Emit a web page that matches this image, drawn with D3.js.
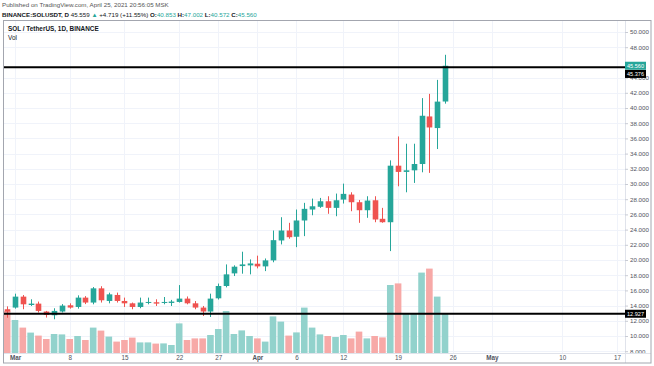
<!DOCTYPE html>
<html>
<head>
<meta charset="utf-8">
<script src="https://cdn.jsdelivr.net/npm/d3@7"></script>
<style>
  body { margin: 0; background: #fff; }
  svg { display: block; font-family: "Liberation Sans", Arial, sans-serif; }
</style>
</head>
<body>
<svg width="654" height="366"></svg>
<script>
// daily candles, SOL/USDT
const dates = ['2021-02-28','2021-03-01','2021-03-02','2021-03-03','2021-03-04','2021-03-05','2021-03-06','2021-03-07',
  '2021-03-08','2021-03-09','2021-03-10','2021-03-11','2021-03-12','2021-03-13','2021-03-14','2021-03-15','2021-03-16',
  '2021-03-17','2021-03-18','2021-03-19','2021-03-20','2021-03-21','2021-03-22','2021-03-23','2021-03-24','2021-03-25',
  '2021-03-26','2021-03-27','2021-03-28','2021-03-29','2021-03-30','2021-03-31','2021-04-01','2021-04-02','2021-04-03',
  '2021-04-04','2021-04-05','2021-04-06','2021-04-07','2021-04-08','2021-04-09','2021-04-10','2021-04-11','2021-04-12',
  '2021-04-13','2021-04-14','2021-04-15','2021-04-16','2021-04-17','2021-04-18','2021-04-19','2021-04-20','2021-04-21',
  '2021-04-22','2021-04-23','2021-04-24','2021-04-25'];
const open = [13.52,13.74,15.18,14.08,14.26,13.22,12.73,13.22,14.04,13.82,15.05,14.40,16.27,14.61,15.40,14.61,14.30,
  13.82,14.35,14.44,14.35,14.35,14.48,14.92,14.30,13.74,13.22,14.96,16.58,18.24,19.20,19.29,19.51,19.16,19.95,
  22.57,23.88,23.06,25.20,26.64,27.00,27.73,26.86,27.95,28.61,27.60,26.55,27.86,25.42,24.97,32.41,31.59,31.80,
  32.63,38.89,37.36,40.853];
const high = [13.90,15.57,15.39,14.83,14.53,13.30,13.65,14.20,14.30,15.35,15.25,16.44,16.55,15.70,15.71,15.05,14.40,
  15.05,15.05,14.83,15.13,14.75,16.70,15.20,14.60,13.95,15.57,16.90,19.42,19.30,21.09,20.08,20.57,20.20,23.88,
  25.63,24.89,26.64,27.52,28.08,28.17,28.39,28.74,30.05,28.91,27.90,28.39,28.39,26.86,33.11,36.26,35.30,35.30,
  41.30,41.86,43.70,47.002];
const low = [12.40,13.60,13.52,13.95,13.09,12.43,12.20,13.10,13.60,13.60,14.20,14.17,14.40,14.30,14.40,13.82,13.52,
  13.65,14.17,13.95,14.17,13.95,14.40,14.17,13.52,12.63,12.50,14.80,16.40,17.89,18.20,18.11,18.90,18.54,19.70,
  22.05,22.80,21.69,23.14,25.89,26.86,26.08,25.76,27.43,26.42,24.89,25.55,24.97,24.90,21.17,29.70,28.91,30.14,
  31.54,31.46,34.60,40.572];
const close = [13.22,15.18,14.17,14.26,13.30,12.77,13.30,14.00,13.74,15.05,14.40,16.27,14.70,15.48,14.61,14.30,13.82,
  14.40,14.48,14.26,14.48,14.53,14.92,14.30,13.74,13.22,14.92,16.58,18.11,19.12,19.42,19.55,19.16,19.95,22.61,
  23.88,23.00,25.20,26.73,27.07,27.73,26.86,27.86,28.70,27.60,26.55,27.82,25.33,24.97,32.41,31.59,31.80,32.63,
  38.98,37.44,40.841,45.560];
// volume, millions USDT
const volume = [21.0,16.5,12.7,10.2,8.7,7.0,9.5,9.3,7.0,8.5,6.5,12.7,11.2,8.2,5.7,6.5,7.7,
  5.3,5.3,4.7,4.8,4.0,14.8,6.5,7.3,7.3,9.0,12.0,21.0,9.5,11.3,8.5,7.3,5.7,18.3,
  15.7,8.7,10.3,22.7,12.7,9.3,8.5,8.0,9.0,7.3,10.7,7.3,8.5,7.8,34.0,34.8,19.8,19.8,
  40.2,42.2,28.2,19.8];

const priceTicks = [8,10,12,14,16,18,20,22,24,26,28,30,32,34,36,38,40,42,44,48,50];
const dateTicks = ['2021-03-01','2021-03-08','2021-03-15','2021-03-22','2021-03-27','2021-04-01','2021-04-06',
  '2021-04-12','2021-04-19','2021-04-26','2021-05-01','2021-05-10','2021-05-17'];
const hLines = [45.376, 12.927];   // drawn horizontal lines
const lastPrice = 45.560;

const up = '#26a69a', down = '#ef5350';
const upVol = '#92d2cc', downVol = '#f7a9a7';

const parse = d3.utcParse('%Y-%m-%d');
const candles = dates.map((d, i) => ({
  date: parse(d), o: open[i], h: high[i], l: low[i], c: close[i], v: volume[i]
}));

const pLeft = 4, pRight = 625, pTop = 21, pBottom = 353;

const x = d3.scaleUtc().domain([parse('2021-03-01'), parse('2021-05-17')]).range([15, 617]);
const y = d3.scaleLinear().domain([8, 50]).range([351.2, 32]);
const yVol = d3.scaleLinear().domain([0, 40]).range([pBottom, pBottom - 80]);

const svg = d3.select('svg');

const defs = svg.append('defs');
defs.append('clipPath').attr('id', 'plot')
  .append('rect').attr('x', pLeft).attr('y', pTop).attr('width', pRight - pLeft).attr('height', pBottom - pTop);
defs.append('clipPath').attr('id', 'paxis')
  .append('rect').attr('x', pRight).attr('y', pTop).attr('width', 30).attr('height', pBottom - pTop);

// grid
const grid = svg.append('g').attr('clip-path', 'url(#plot)');
grid.selectAll('.hg').data(priceTicks).enter().append('line')
  .attr('x1', pLeft).attr('x2', pRight)
  .attr('y1', d => Math.round(y(d)) + 0.5).attr('y2', d => Math.round(y(d)) + 0.5)
  .attr('stroke', '#f0f3fa');
grid.selectAll('.vg').data(dateTicks).enter().append('line')
  .attr('x1', d => Math.round(x(parse(d))) + 0.5).attr('x2', d => Math.round(x(parse(d))) + 0.5)
  .attr('y1', pTop).attr('y2', pBottom)
  .attr('stroke', '#f0f3fa');

const plot = svg.append('g').attr('clip-path', 'url(#plot)');

// volume
plot.selectAll('.vol').data(candles).enter().append('rect')
  .attr('x', d => x(d.date) - 3.3)
  .attr('width', 6.6)
  .attr('y', d => yVol(d.v))
  .attr('height', d => pBottom - yVol(d.v))
  .attr('fill', d => d.c >= d.o ? upVol : downVol);

// wicks + bodies
plot.selectAll('.wick').data(candles).enter().append('line')
  .attr('x1', d => Math.round(x(d.date)) + 0.5).attr('x2', d => Math.round(x(d.date)) + 0.5)
  .attr('y1', d => y(d.h)).attr('y2', d => y(d.l))
  .attr('stroke', d => d.c >= d.o ? up : down);
plot.selectAll('.body').data(candles).enter().append('rect')
  .attr('x', d => Math.round(x(d.date)) + 0.5 - 2.8)
  .attr('width', 5.6)
  .attr('y', d => y(Math.max(d.o, d.c)))
  .attr('height', d => Math.max(1, Math.abs(y(d.o) - y(d.c))))
  .attr('fill', d => d.c >= d.o ? up : down);

// horizontal drawings
plot.selectAll('.hl').data(hLines).enter().append('line')
  .attr('x1', pLeft).attr('x2', pRight)
  .attr('y1', d => y(d)).attr('y2', d => y(d))
  .attr('stroke', '#000').attr('stroke-width', 2);

// frame + separators
svg.append('line').attr('x1', pRight + 0.5).attr('x2', pRight + 0.5).attr('y1', pTop).attr('y2', 363).attr('stroke', '#e0e3eb');
svg.append('line').attr('x1', pLeft).attr('x2', 651).attr('y1', pBottom + 0.5).attr('y2', pBottom + 0.5).attr('stroke', '#e0e3eb');
svg.append('rect').attr('x', 3.5).attr('y', 20.5).attr('width', 647.5).attr('height', 342.5)
  .attr('fill', 'none').attr('stroke', '#a3a6af');

// price axis (44.000 sits partly under the line tag, as in the original)
const pAxis = svg.append('g').attr('transform', `translate(${pRight},0)`)
  .call(d3.axisRight(y).tickValues(priceTicks).tickSize(3).tickPadding(2).tickFormat(d3.format('.3f')));
pAxis.select('.domain').remove();
pAxis.selectAll('line').attr('stroke', '#c9ccd4');
pAxis.selectAll('text').attr('font-size', 6.2).attr('fill', '#50535e').attr('font-family', 'Liberation Sans, Arial, sans-serif');
// cut the lowest label at the pane edge
svg.append('g').attr('clip-path', 'url(#paxis)').node().appendChild(pAxis.node());

// time axis
const fmt = d => d.getUTCDate() === 1 ? d3.utcFormat('%b')(d) : d.getUTCDate();
const tAxis = svg.append('g').attr('transform', `translate(0,${pBottom})`)
  .call(d3.axisBottom(x).tickValues(dateTicks.map(parse)).tickSize(0).tickPadding(2.5).tickFormat(fmt));
tAxis.select('.domain').remove();
tAxis.selectAll('text').attr('font-size', 6.3).attr('fill', '#50535e').attr('font-family', 'Liberation Sans, Arial, sans-serif')
  .attr('font-weight', d => d.getUTCDate() === 1 ? 'bold' : 'normal');

// price labels
const tag = (val, cy, bg) => {
  const g = svg.append('g');
  g.append('rect').attr('x', pRight).attr('y', cy - 4).attr('width', 21).attr('height', 8).attr('fill', bg);
  g.append('text').attr('x', pRight + 2).attr('y', cy).attr('dy', '0.35em')
    .attr('font-size', 6).attr('fill', '#fff')
    .attr('textLength', 17).attr('lengthAdjust', 'spacingAndGlyphs')
    .text(d3.format('.3f')(val));
};
const lastY = y(lastPrice);
tag(lastPrice, lastY, up);
tag(hLines[0], Math.max(y(hLines[0]), lastY + 8.2), '#000');
tag(hLines[1], y(hLines[1]), '#000');

// header
svg.append('text').attr('x', 2).attr('y', 7).attr('font-size', 6.2).attr('fill', '#555')
  .text('Published on TradingView.com, April 25, 2021 20:56:05 MSK');
const h2 = svg.append('text').attr('x', 2).attr('y', 16.5).attr('font-size', 6.2).attr('fill', '#131722');
h2.append('tspan').attr('font-weight', 'bold').text('BINANCE:SOLUSDT, D ');
h2.append('tspan').text('45.559 ');
h2.append('tspan').attr('fill', up).text('▲ ');
h2.append('tspan').text('+4.719 (+11.55%) ');
[['O:', open[open.length - 1]], ['H:', high[high.length - 1]], ['L:', low[low.length - 1]], ['C:', close[close.length - 1]]]
  .forEach(([k, v]) => {
    h2.append('tspan').attr('font-weight', 'bold').text(k);
    h2.append('tspan').attr('fill', up).text(d3.format('.3f')(v) + ' ');
  });

svg.append('text').attr('x', 8).attr('y', 31).attr('font-size', 6.4).attr('font-weight', 'bold').attr('fill', '#131722')
  .text('SOL / TetherUS, 1D, BINANCE');
svg.append('text').attr('x', 8).attr('y', 40).attr('font-size', 6.4).attr('fill', '#131722').text('Vol');
</script>
</body>
</html>
